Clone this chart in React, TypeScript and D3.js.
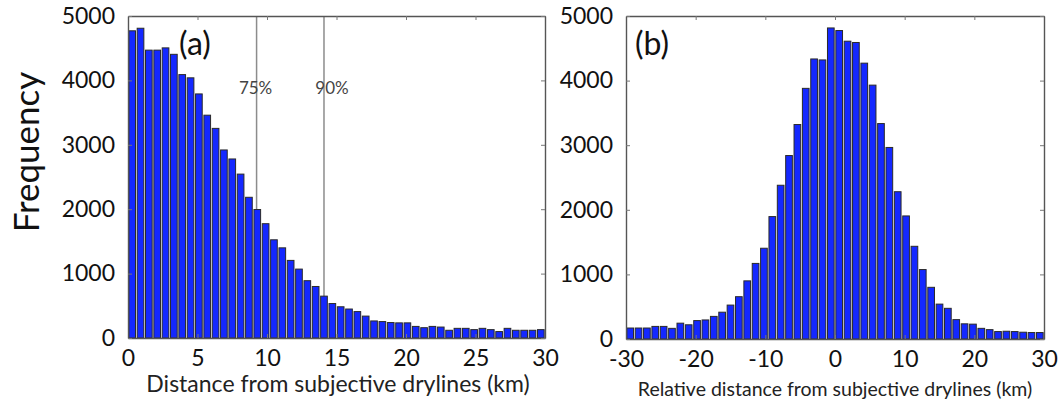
import React, { useEffect, useRef } from "react";
import * as d3 from "d3";

// counts per bin (50 bins each)
const countsA = [
  4770, 4810, 4470, 4470, 4505, 4405, 4090, 4040, 3790, 3460,
  3255, 2920, 2780, 2545, 2185, 1995, 1775, 1525, 1400, 1205,
  1070, 890, 800, 650, 535, 485, 450, 410, 340, 265,
  255, 240, 235, 235, 180, 160, 180, 170, 120, 150,
  150, 130, 150, 130, 100, 150, 120, 120, 120, 130,
];
const countsB = [
  170, 170, 170, 195, 195, 165, 245, 220, 285, 295,
  350, 415, 525, 655, 900, 1170, 1405, 1895, 2380, 2840,
  3320, 3880, 4335, 4320, 4815, 4775, 4610, 4590, 4270, 3930,
  3335, 2965, 2280, 1905, 1435, 1075, 800, 540, 475, 300,
  235, 230, 165, 145, 115, 120, 115, 105, 100, 100,
];
const domainA = [0, 30];
const domainB = [-30, 30];
const xTicksA = [0, 5, 10, 15, 20, 25, 30];
const xTicksB = [-30, -20, -10, 0, 10, 20, 30];
const yTicks = [0, 1000, 2000, 3000, 4000, 5000];
const percentiles = [
  { label: "75%", value: 9.25 },
  { label: "90%", value: 14.1 },
];

const FONT = "Lato, 'Open Sans', sans-serif";

function drawPanel(svg, opts) {
  var g = svg.append("g");
  var { left, right, top, bottom, counts, domain, xTicks } = opts;

  var x = d3.scaleLinear().domain(domain).range([left, right]);
  var y = d3.scaleLinear().domain([0, 5000]).range([bottom, top]);
  var band = d3
    .scaleBand()
    .domain(d3.range(counts.length))
    .range([left, right])
    .paddingInner(0.2)
    .paddingOuter(0.1);

  // percentile lines behind the bars
  if (opts.lines) {
    var offs = [-1, 8];
    opts.lines.forEach((p, i) => {
      g.append("line")
        .attr("x1", x(p.value))
        .attr("x2", x(p.value))
        .attr("y1", top)
        .attr("y2", bottom)
        .attr("stroke", "#8c8c8c")
        .attr("stroke-width", 1.5);
      g.append("text")
        .attr("x", x(p.value) + offs[i])
        .attr("y", 94)
        .attr("text-anchor", "middle")
        .style("font-family", FONT)
        .style("font-size", "17px")
        .style("fill", "#444")
        .text(p.label);
    });
  }

  g.selectAll(".bar")
    .data(counts)
    .join("rect")
    .attr("class", "bar")
    .attr("x", (d, i) => band(i))
    .attr("width", band.bandwidth())
    .attr("y", (d) => y(d))
    .attr("height", (d) => y(0) - y(d))
    .attr("fill", "#1428ff")
    .attr("stroke", "#2a2a2a")
    .attr("stroke-width", 1);

  var styleAxis = (sel) => {
    sel.select(".domain").attr("stroke", "#555").attr("stroke-width", 1.4);
    sel.selectAll(".tick line").attr("stroke", "#777");
    sel
      .selectAll("text")
      .style("font-family", FONT)
      .style("font-size", "23px")
      .attr("fill", "#111");
  };

  g.append("g")
    .attr("transform", `translate(0, ${bottom})`)
    .call(
      d3.axisBottom(x).tickValues(xTicks).tickSize(-4).tickSizeOuter(0).tickPadding(12)
        .tickFormat((d) => String(d))
    )
    .call(styleAxis);
  g.append("g")
    .attr("transform", `translate(0, ${top})`)
    .call(d3.axisTop(x).tickValues(xTicks).tickSize(-4).tickSizeOuter(0).tickFormat(() => ""))
    .call(styleAxis);
  g.append("g")
    .attr("transform", `translate(${left}, 0)`)
    .call(
      d3.axisLeft(y).tickValues(yTicks).tickSize(-4).tickSizeOuter(0).tickPadding(13)
        .tickFormat((d) => String(d))
    )
    .call(styleAxis);
  g.append("g")
    .attr("transform", `translate(${right}, 0)`)
    .call(d3.axisRight(y).tickValues(yTicks).tickSize(-4).tickSizeOuter(0).tickFormat(() => ""))
    .call(styleAxis);

  g.append("text")
    .attr("x", opts.tagX)
    .attr("y", 55)
    .style("font-family", FONT)
    .style("font-size", "32px")
    .attr("fill", "#111")
    .text(opts.tag);

  g.append("text")
    .attr("x", opts.labelX)
    .attr("y", opts.labelY)
    .attr("text-anchor", "middle")
    .style("font-family", FONT)
    .style("font-size", opts.labelSize)
    .attr("fill", "#222")
    .text(opts.label);
}

export default function App() {
  const ref = useRef(null);

  useEffect(() => {
    var svg = d3.select(ref.current);
    svg.selectAll("*").remove();

    drawPanel(svg, {
      left: 128,
      right: 545,
      top: 16,
      bottom: 338,
      counts: countsA,
      domain: domainA,
      xTicks: xTicksA,
      lines: percentiles,
      tag: "(a)",
      tagX: 179,
      label: "Distance from subjective drylines (km)",
      labelX: 338,
      labelY: 392,
      labelSize: "23px",
    });

    drawPanel(svg, {
      left: 626,
      right: 1044,
      top: 16,
      bottom: 339,
      counts: countsB,
      domain: domainB,
      xTicks: xTicksB,
      tag: "(b)",
      tagX: 635,
      label: "Relative distance from subjective drylines (km)",
      labelX: 835,
      labelY: 396,
      labelSize: "19.5px",
    });

    svg
      .append("text")
      .attr("transform", "translate(39, 152) rotate(-90)")
      .attr("text-anchor", "middle")
      .style("font-family", FONT)
      .style("font-size", "35px")
      .attr("fill", "#111")
      .text("Frequency");
  }, []);

  return (
    <svg
      ref={ref}
      width={1062}
      height={403}
      style={{ position: "absolute", left: 0, top: 0, background: "#fff" }}
    />
  );
}
